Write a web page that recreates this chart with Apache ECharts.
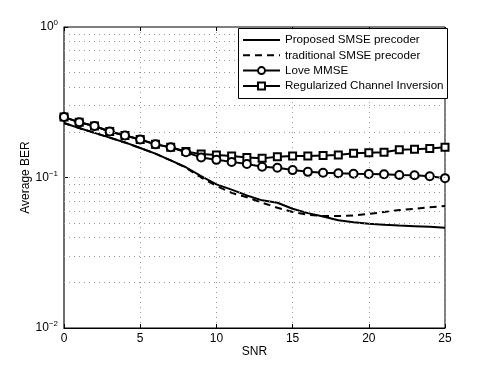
<!DOCTYPE html>
<html>
<head>
<meta charset="utf-8">
<script src="https://cdn.jsdelivr.net/npm/echarts@6/dist/echarts.min.js"></script>
<style>
  html, body { margin: 0; padding: 0; background: #fff; }
  #grafico { width: 491px; height: 369px; }
</style>
</head>
<body>
<div id="grafico"></div>
<script>
// eixo x (SNR)
var snr = [0,1,2,3,4,5,6,7,8,9,10,11,12,13,14,15,16,17,18,19,20,21,22,23,24,25];

// curvas de BER
var proposto    = [0.230,0.213,0.198,0.184,0.171,0.157,0.144,0.130,0.117,0.102,0.090,0.083,0.076,0.0705,0.068,0.062,0.058,0.055,0.052,0.0505,0.0493,0.0486,0.048,0.0475,0.047,0.0464];
var tradicional = [0.230,0.213,0.198,0.184,0.171,0.157,0.144,0.130,0.116,0.100,0.088,0.079,0.074,0.068,0.063,0.059,0.0565,0.0555,0.0555,0.056,0.0572,0.059,0.0608,0.062,0.0635,0.0647];
var loveMmse    = [0.252,0.233,0.220,0.202,0.190,0.179,0.166,0.159,0.147,0.136,0.131,0.127,0.123,0.118,0.116,0.112,0.109,0.1076,0.1066,0.106,0.1055,0.105,0.104,0.1035,0.102,0.099];
var rci         = [0.252,0.233,0.220,0.202,0.190,0.179,0.166,0.159,0.149,0.143,0.141,0.139,0.136,0.134,0.1375,0.139,0.139,0.140,0.141,0.145,0.146,0.147,0.153,0.154,0.156,0.159];

var nomes = ['Proposed SMSE precoder', 'traditional SMSE precoder', 'Love MMSE', 'Regularized Channel Inversion'];

// linhas de grade do eixo log (2..9 de cada década)
var decadas = [0.01, 0.1];
var gradeY = [];
for (var d = 0; d < decadas.length; d++) {
  for (var m = 1; m <= 9; m++) {
    if (d == 0 && m == 1) continue;
    gradeY.push({ yAxis: decadas[d] * m });
  }
}

function pares(ys) {
  var out = [];
  for (var i = 0; i < snr.length; i++) out.push([snr[i], ys[i]]);
  return out;
}

var fonte = 'Liberation Sans';
var tracejado = [7, 5];

// legenda desenhada à mão (estilo MATLAB)
function montaLegenda() {
  var els = [];
  var x0 = 238, y0 = 28, larg = 209, alt = 70;
  els.push({
    type: 'rect', z: 100,
    shape: { x: x0 + 0.5, y: y0 + 0.5, width: larg, height: alt },
    style: { fill: '#fff', stroke: '#000', lineWidth: 1 }
  });
  var simbolos = ['none', 'none', 'circle', 'rect'];
  for (var i = 0; i < nomes.length; i++) {
    var y = y0 + 12 + i * 15.3;
    els.push({
      type: 'line', z: 101,
      shape: { x1: 243, y1: y, x2: 280, y2: y },
      style: { stroke: '#000', lineWidth: 2, lineDash: i == 1 ? tracejado : null }
    });
    if (simbolos[i] == 'circle') {
      els.push({
        type: 'circle', z: 102,
        shape: { cx: 261.5, cy: y, r: 3.5 },
        style: { fill: '#fff', stroke: '#000', lineWidth: 2 }
      });
    } else if (simbolos[i] == 'rect') {
      els.push({
        type: 'rect', z: 102,
        shape: { x: 258, y: y - 3.5, width: 7, height: 7 },
        style: { fill: '#fff', stroke: '#000', lineWidth: 2 }
      });
    }
    els.push({
      type: 'text', z: 102,
      style: { text: nomes[i], x: 285, y: y, fill: '#000', font: '11.6px "' + fonte + '"', verticalAlign: 'middle' }
    });
  }
  return els;
}

var grafico = echarts.init(document.getElementById('grafico'));

var opcoes = {
  animation: false,
  textStyle: { fontFamily: fonte },
  grid: {
    left: 64, right: 46, top: 27, bottom: 41,
    show: true, borderColor: '#000', borderWidth: 1
  },
  xAxis: [{
    type: 'value', min: 0, max: 25, interval: 5,
    name: 'SNR', nameLocation: 'middle', nameGap: 18, nameMoveOverlap: false,
    nameTextStyle: { fontFamily: fonte, fontSize: 12, color: '#000' },
    axisLine: { lineStyle: { color: '#000', width: 1 } },
    axisTick: { inside: true, length: 4, lineStyle: { color: '#000' } },
    axisLabel: { fontFamily: fonte, fontSize: 12, color: '#000', margin: 5 },
    splitLine: { show: true, lineStyle: { color: '#999', type: [1, 4], width: 1 } }
  }, {
    type: 'value', min: 0, max: 25, interval: 5, position: 'top',
    axisLine: { show: false },
    axisTick: { inside: true, length: 4, lineStyle: { color: '#000' } },
    axisLabel: { show: false },
    splitLine: { show: false }
  }],
  yAxis: {
    type: 'log', logBase: 10, min: 0.01, max: 1,
    name: 'Average BER', nameLocation: 'middle', nameGap: 32, nameMoveOverlap: false,
    nameTextStyle: { fontFamily: fonte, fontSize: 12, color: '#000' },
    axisLine: { show: true, lineStyle: { color: '#666', width: 1.5 } },
    axisTick: { inside: true, length: 4, lineStyle: { color: '#000' } },
    splitLine: { show: false },
    axisLabel: {
      margin: 6,
      formatter: function (v) {
        var e = Math.round(Math.log10(v));
        return '{b|10}{s|' + (e == 0 ? '0' : '\u2212' + (-e)) + '}';
      },
      rich: {
        b: { fontFamily: fonte, fontSize: 12, color: '#000' },
        s: { fontFamily: fonte, fontSize: 8, color: '#000', verticalAlign: 'bottom', padding: [0, 0, 8, 0] }
      }
    }
  },
  graphic: montaLegenda(),
  series: [
    {
      // grade horizontal pontilhada
      type: 'line', data: [], z: 1, silent: true,
      markLine: {
        silent: true, symbol: 'none', label: { show: false },
        lineStyle: { color: '#999', type: [1, 4], width: 1 },
        data: gradeY
      }
    },
    {
      name: nomes[0], type: 'line', data: pares(proposto),
      symbol: 'none', color: '#000',
      lineStyle: { color: '#000', width: 2 }
    },
    {
      name: nomes[1], type: 'line', data: pares(tradicional),
      symbol: 'none', color: '#000',
      lineStyle: { color: '#000', width: 2, type: tracejado }
    },
    {
      name: nomes[3], type: 'line', data: pares(rci),
      symbol: 'rect', symbolSize: 7, showAllSymbol: true,
      itemStyle: { color: '#fff', borderColor: '#000', borderWidth: 2 },
      lineStyle: { color: '#000', width: 2 }
    },
    {
      name: nomes[2], type: 'line', data: pares(loveMmse),
      symbol: 'circle', symbolSize: 8, showAllSymbol: true,
      itemStyle: { color: '#fff', borderColor: '#000', borderWidth: 2 },
      lineStyle: { color: '#000', width: 2 }
    }
  ]
};

grafico.setOption(opcoes);
</script>
</body>
</html>
